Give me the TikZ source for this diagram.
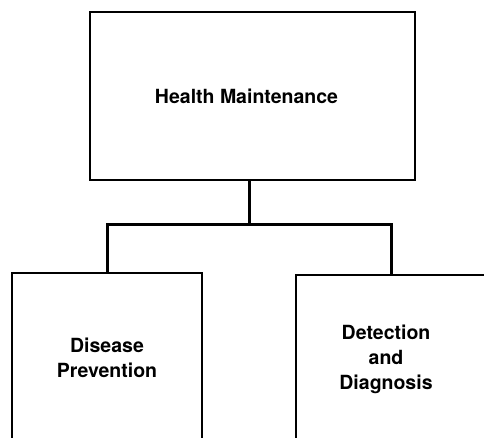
\documentclass[tikz,border=0pt]{standalone}
\usepackage{fontspec}
\setmainfont{TeX Gyre Heros}
\usetikzlibrary{positioning}

\tikzset{
	box/.style={draw, line width=2.8pt, minimum width=#1},
	title/.style={font=\bfseries\fontsize{19.5}{25}\selectfont, align=center},
	link/.style={line width=3pt}
}

\begin{document}
\begin{tikzpicture}[x=1pt, y=-1pt]
	\useasboundingbox (0,0) rectangle (484,437);
	\clip (0,0) rectangle (484,437);
	\node[box=325pt, minimum height=168pt, title] (hm) at (252.5,96) {Health Maintenance\hspace*{12pt}};
	\node[box=190pt, minimum height=170pt, title] (dp) at (107,358) {Disease\\Prevention};
	\node[box=220pt, minimum height=166pt] (dd) at (406,358) {};
	\node[title] (ddtext) at (386,359) {Detection\\and\\Diagnosis};
	\coordinate (split) at ([xshift=-3pt]hm.south |- 0,224);
	\coordinate (ddtop) at (391,275);
	\draw[link] ([xshift=-3pt]hm.south) -- (split);
	\draw[link] (dp.north) |- (split) -| (ddtop);
\end{tikzpicture}
\end{document}
